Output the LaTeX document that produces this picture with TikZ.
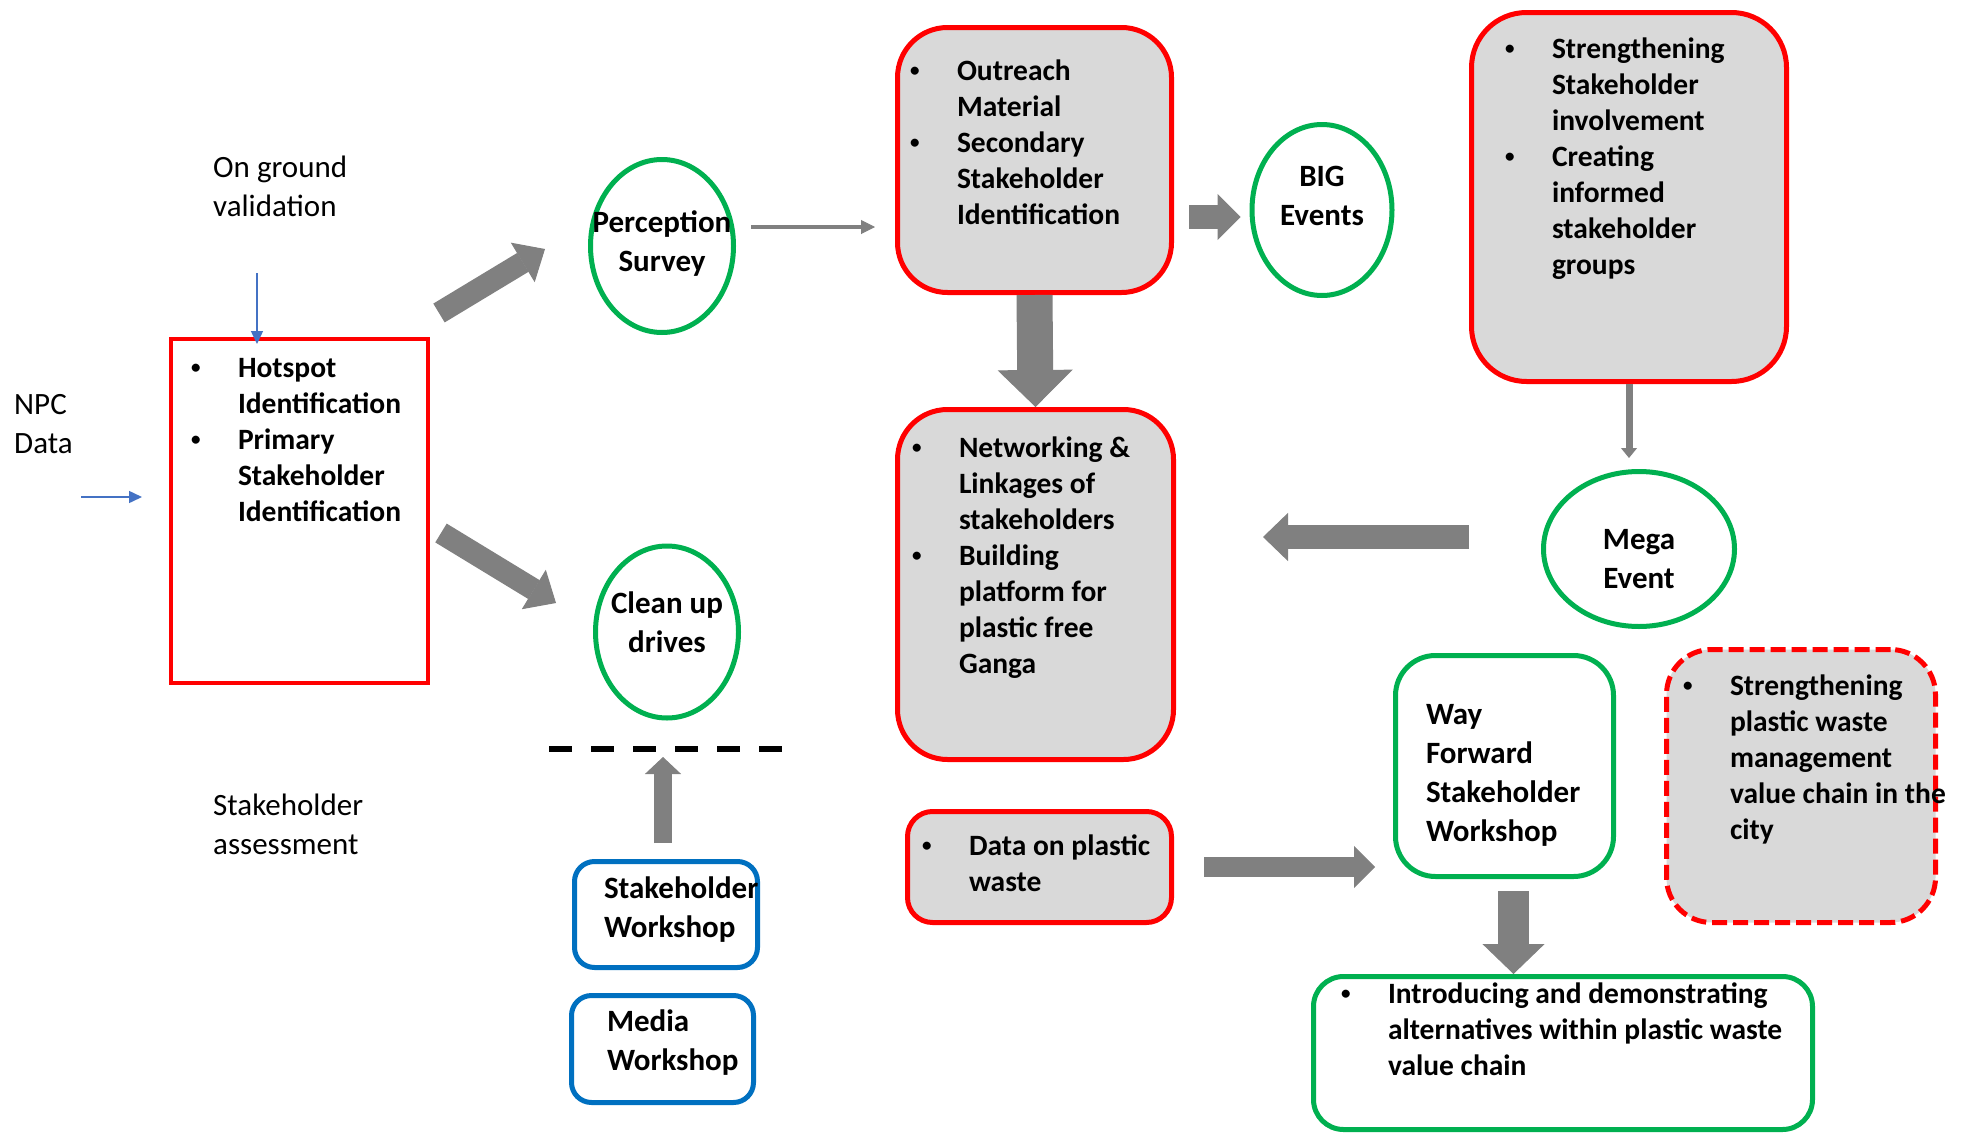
\documentclass[tikz,border=0pt]{standalone}
\usepackage{fontspec}
\setmainfont{Carlito}
\usetikzlibrary{positioning,shapes.geometric,arrows.meta}

\definecolor{pptred}{HTML}{FF0000}
\definecolor{pptgreen}{HTML}{00B050}
\definecolor{pptblue}{HTML}{0070C0}
\definecolor{linkblue}{HTML}{4472C4}
\definecolor{arrowgray}{HTML}{808080}
\definecolor{boxgray}{HTML}{D9D9D9}

\newcommand{\listfont}{\fontsize{29.5}{36}\selectfont\bfseries}
\newcommand{\namefont}{\fontsize{31}{39}\selectfont\bfseries}
\newcommand{\notefont}{\fontsize{31}{39}\selectfont}

% small bullet as in the slides
\newcommand{\itemdot}{\hspace*{3pt}\raisebox{4pt}{\fontsize{19}{19}\selectfont\textbullet}}
% box text: width, height, left pad, top pad, rows
\newcommand{\bulletrows}[5]{\parbox[t][#2][t]{#1}{\vspace*{#4}\noindent\hspace*{#3}%
  \begin{tabular}[t]{@{}p{50pt}@{}l@{}}#5\end{tabular}}}
\newcommand{\plainrows}[5]{\parbox[t][#2][t]{#1}{\vspace*{#4}\noindent\hspace*{#3}%
  \begin{tabular}[t]{@{}l@{}}#5\end{tabular}}}
\newcommand{\stack}[1]{\begin{tabular}[t]{@{}l@{}}#1\end{tabular}}
\newcommand{\ovaltext}[2]{\makebox[0pt]{\raisebox{#1}[0pt][0pt]{\begin{tabular}[t]{@{}c@{}}#2\end{tabular}}}}

\begin{document}
\begin{tikzpicture}[x=1pt, y=-1pt,
  every node/.style={inner sep=0pt},
  listbox/.style={draw=pptred, line width=5pt, fill=boxgray, rounded corners=#1,
    anchor=north west, font=\listfont},
  listbox/.default=50pt,
  greenbox/.style={draw=pptgreen, line width=5pt, rounded corners=#1, anchor=north west},
  greenbox/.default=40pt,
  bluebox/.style={draw=pptblue, line width=5pt, rounded corners=20pt, anchor=north west, font=\namefont},
  oval/.style={draw=pptgreen, line width=5pt, ellipse, font=\namefont},
  note/.style={anchor=base west, font=\notefont},
  bluearrow/.style={draw=linkblue, line width=1.5pt, -{Triangle[width=12pt,length=13pt]}},
  thinarrow/.style={draw=arrowgray, line width=4pt, -{Triangle[width=14pt,length=14pt,line width=1pt]}},
  fatarrow/.style n args={3}{draw=arrowgray, line width=#1, -{Triangle[width=#2,length=#3,line width=1pt]}},
  cutline/.style={draw=black, line width=6pt, dash pattern=on 23pt off 19pt}]

\path[use as bounding box, fill=white] (0,0) rectangle (1966,1135);

% notes on the left
\node[note] (val) at (213,177) {\stack{On ground\\validation}};
\node[note] (npc) at (14,414) {\stack{NPC\\Data}};
\node[note] (assess) at (213,815) {\stack{Stakeholder\\assessment}};

% boxes
\node[listbox, sharp corners, fill=none, line width=4pt] (hot) at (169,337)
  {\bulletrows{257pt}{344pt}{17pt}{13pt}{\itemdot & Hotspot\\ & Identification\\
   \itemdot & Primary\\ & Stakeholder\\ & Identification}};
\node[listbox] (out) at (895,25)
  {\bulletrows{274pt}{265pt}{9.5pt}{28pt}{\itemdot & Outreach\\ & Material\\
   \itemdot & Secondary\\ & Stakeholder\\ & Identification}};
\node[listbox=55pt] (str) at (1469,10)
  {\bulletrows{315pt}{369pt}{30.5pt}{21pt}{\itemdot & Strengthening\\ & Stakeholder\\ & involvement\\
   \itemdot & Creating\\ & informed\\ & stakeholder\\ & groups}};
\node[listbox] (net) at (895,407)
  {\bulletrows{276pt}{350pt}{11.5pt}{23pt}{\itemdot & Networking \&\\ & Linkages of\\ & stakeholders\\
   \itemdot & Building\\ & platform for\\ & plastic free\\ & Ganga}};
\node[listbox=25pt] (data) at (905,809)
  {\bulletrows{264pt}{111pt}{11.5pt}{19pt}{\itemdot & Data on plastic\\ & waste}};
\node[listbox=45pt, dash pattern=on 15pt off 6pt] (city) at (1664,647)
  {\bulletrows{269pt}{273pt}{13.5pt}{21pt}{\itemdot & Strengthening\\ & plastic waste\\ & management\\
   & value chain in the\\ & city}};
\node[greenbox, font=\namefont] (way) at (1393,653)
  {\plainrows{218pt}{221pt}{30.5pt}{42pt}{Way\\Forward\\Stakeholder\\Workshop}};
\node[greenbox=30pt, font=\listfont] (intro) at (1311,974)
  {\bulletrows{499pt}{153pt}{24.5pt}{2pt}{\itemdot & Introducing and demonstrating\\
   & alternatives within plastic waste\\ & value chain}};
\node[bluebox] (sw) at (572,859) {\plainrows{183pt}{106pt}{29.5pt}{10pt}{Stakeholder\\Workshop}};
\node[bluebox] (mw) at (569,993) {\plainrows{182pt}{107pt}{35.5pt}{9pt}{Media\\Workshop}};

% ovals
\node[oval, minimum width=143pt, minimum height=173pt] (per) at (662,246) {\ovaltext{14pt}{Perception\\Survey}};
\node[oval, minimum width=140pt, minimum height=171pt] (big) at (1322,210) {\ovaltext{23.5pt}{BIG\\Events}};
\node[oval, minimum width=191pt, minimum height=155pt] (mega) at (1639,549) {\ovaltext{0pt}{Mega\\Event}};
\node[oval, minimum width=143pt, minimum height=172pt] (clean) at (667,632) {\ovaltext{18.5pt}{Clean up\\drives}};

% thin arrows
\coordinate (valfoot) at (257,273);
\coordinate (npcfoot) at (81,497);
\draw[bluearrow, shorten >=-7pt] (valfoot) -- (valfoot |- hot.north);
\draw[bluearrow, shorten >=27pt] (npcfoot) -- (npcfoot -| hot.west);
\coordinate (perout) at ([yshift=19pt]per.east);
\draw[thinarrow, shorten <=15pt, shorten >=20pt] (perout) -- (perout -| out.west);
\draw[fatarrow={7pt}{16pt}{10pt}, shorten >=11pt] (str.south) -- (str.south |- mega.north);

% block arrows
\coordinate (upfrom) at (439,313);
\coordinate (upto) at (545,249);
\coordinate (downfrom) at (441,533);
\coordinate (downto) at (556,603);
\draw[fatarrow={22pt}{46pt}{26pt}] (upfrom) -- (upto);
\draw[fatarrow={22pt}{46pt}{26pt}] (downfrom) -- (downto);
\coordinate (bigin) at ([yshift=-7pt]big.west);
\draw[fatarrow={24pt}{46pt}{23pt}, shorten <=15pt, shorten >=9pt] (bigin -| out.east) -- (bigin);
\draw[fatarrow={36pt}{75pt}{37pt}] (out.south) -- (net.north);
\coordinate (megaout) at ([yshift=12pt]mega.west);
\draw[fatarrow={24pt}{48pt}{25pt}, shorten <=72pt, shorten >=87pt] (megaout) -- (megaout -| net.east);
\draw[fatarrow={20pt}{42pt}{21pt}, shorten <=30pt, shorten >=18pt] (data.east) -- (data.east -| way.west);
\coordinate (wayfoot) at ([xshift=9pt]way.south);
\draw[fatarrow={31pt}{62pt}{30pt}, shorten <=12pt] (wayfoot) -- (wayfoot |- intro.north);

% cut line above the workshops
\coordinate (cutl) at (549,749);
\coordinate (cutr) at (785,749);
\draw[cutline] (cutl) -- (cutr);
\coordinate (swtop) at ([xshift=-3pt]sw.north);
\draw[fatarrow={18pt}{36pt}{17pt}, shorten <=16pt, shorten >=8pt] (swtop) -- (swtop |- cutl);
\end{tikzpicture}
\end{document}
